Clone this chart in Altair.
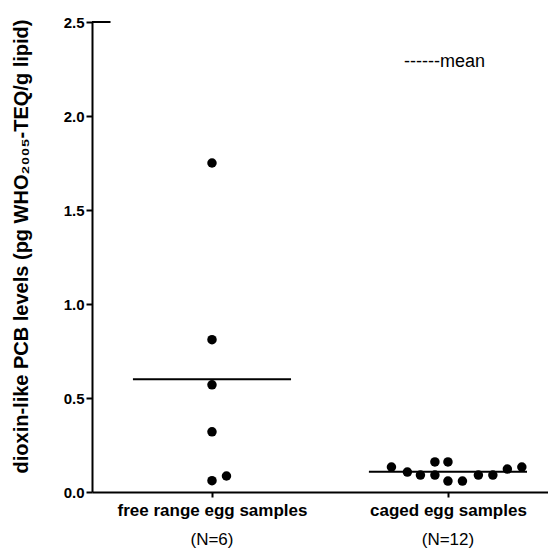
import altair as alt
import pandas as pd

# data
free_range = [1.75, 0.81, 0.57, 0.32, 0.06, 0.085]
free_slot = [0, 0, 0, 0, 0, 1]
caged = [0.133, 0.106, 0.090, 0.090, 0.160, 0.160, 0.058, 0.058, 0.090, 0.090, 0.122, 0.133]
caged_slot = [-3.9, -2.8, -1.9, -0.9, -0.9, 0, 0, 1, 2.1, 3.1, 4.1, 5.1]
groups = ["free range egg samples", "caged egg samples"]
group_n = ["(N=6)", "(N=12)"]
y_ticks = [0.0, 0.5, 1.0, 1.5, 2.0, 2.5]

SLOT = 0.0614  # width of one dot in x units
HALF = 0.335   # half length of the mean line

rows = []
for v, s in zip(free_range, free_slot):
    rows.append({"group": groups[0], "pos": 1, "value": v, "slot": s})
for v, s in zip(caged, caged_slot):
    rows.append({"group": groups[1], "pos": 2, "value": v, "slot": s})
df = pd.DataFrame(rows)
df["x"] = df["pos"] + df["slot"] * SLOT

means = df.groupby(["group", "pos"], as_index=False)["value"].mean()
means["x1"] = means["pos"] - HALF
means["x2"] = means["pos"] + HALF

nlab = pd.DataFrame({"pos": [1, 2], "n": group_n})

XMIN = 0.4915
xscale = alt.Scale(domain=[XMIN, 2.424], nice=False, zero=False)
yscale = alt.Scale(domain=[0, 2.5], nice=False)

label_expr = "datum.value == 1 ? '%s' : '%s'" % (groups[0], groups[1])

points = alt.Chart(df).mark_circle(size=90, color="black", opacity=1).encode(
    x=alt.X("x:Q", scale=xscale, axis=alt.Axis(
        values=[1, 2], labelExpr=label_expr, title=None, grid=False,
        domainColor="black", domainWidth=2, tickColor="black", tickWidth=2,
        tickSize=5, labelFont="Liberation Sans", labelFontWeight="bold",
        labelFontSize=17, labelColor="black", labelPadding=5, labelLimit=400)),
    y=alt.Y("value:Q", scale=yscale, axis=alt.Axis(
        values=y_ticks, format=".1f", grid=False,
        title="dioxin-like PCB levels (pg WHO₂₀₀₅-TEQ/g lipid)",
        titleFont="Liberation Sans", titleFontWeight="bold", titleFontSize=20,
        titleColor="black", titleX=-71, titleY=224, titleAngle=270,
        titleAlign="center", titleBaseline="middle", titleLimit=600,
        domainColor="black", domainWidth=2, tickColor="black", tickWidth=2,
        tickSize=6, labelFont="Liberation Sans", labelFontWeight="bold",
        labelFontSize=15, labelColor="black", labelPadding=2)),
)

mean_rules = alt.Chart(means).mark_rule(color="black", strokeWidth=2).encode(
    x=alt.X("x1:Q", scale=xscale),
    x2="x2:Q",
    y=alt.Y("value:Q", scale=yscale),
)

top_stub = alt.Chart(pd.DataFrame({"x1": [XMIN], "x2": [0.57], "y": [2.5]})).mark_rule(
    color="black", strokeWidth=2
).encode(x=alt.X("x1:Q", scale=xscale), x2="x2:Q", y=alt.Y("y:Q", scale=yscale))

ntext = alt.Chart(nlab).mark_text(font="Liberation Sans", fontSize=17, color="black").encode(
    x=alt.X("pos:Q", scale=xscale),
    y=alt.value(518),
    text="n:N",
)

legend = alt.Chart(pd.DataFrame({"t": ["------mean"]})).mark_text(
    font="Liberation Sans", fontSize=18, color="black", align="left", baseline="middle"
).encode(x=alt.value(312), y=alt.value(40), text="t:N")

chart = alt.layer(points, mean_rules, top_stub, ntext, legend).properties(
    width=456, height=470,
    autosize=alt.AutoSizeParams(type="none"),
    padding={"left": 84, "top": 14, "right": 0, "bottom": 59},
).configure_view(stroke=None)

chart.save("out.html", embed_options={"renderer": "svg", "actions": False})
